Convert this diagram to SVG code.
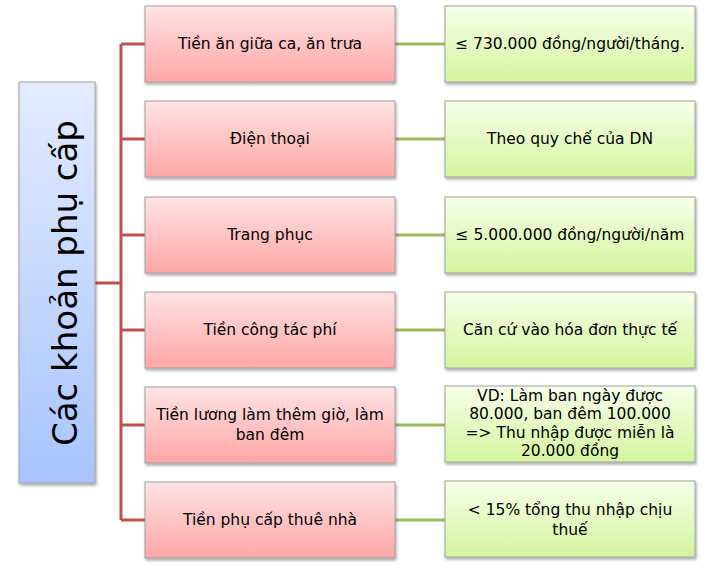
<svg xmlns="http://www.w3.org/2000/svg" width="719" height="581" viewBox="0 0 719 581">
<defs>
<linearGradient id="gr" x1="0" y1="0" x2="0" y2="1"><stop offset="0" stop-color="#ffe3e3"/><stop offset="1" stop-color="#ffa6a6"/></linearGradient>
<linearGradient id="gg" x1="0" y1="0" x2="0" y2="1"><stop offset="0" stop-color="#f6ffe9"/><stop offset="1" stop-color="#d4f59e"/></linearGradient>
<linearGradient id="gb" x1="0" y1="0" x2="0" y2="1"><stop offset="0" stop-color="#e3ecff"/><stop offset="1" stop-color="#a8c4ff"/></linearGradient>
<filter id="sh" x="-10%" y="-10%" width="120%" height="130%"><feDropShadow dx="1" dy="2" stdDeviation="1.5" flood-opacity="0.35"/></filter>
</defs>
<style>
.r{fill:url(#gr);stroke:#a0a0a0;stroke-width:1;filter:url(#sh)}
.g{fill:url(#gg);stroke:#a0a0a0;stroke-width:1;filter:url(#sh)}
.b{fill:url(#gb);stroke:#a0a0a0;stroke-width:1;filter:url(#sh)}
text{font-family:"DejaVu Sans","Liberation Sans",sans-serif;font-size:15.5px;fill:#000;text-anchor:middle}
.rl{stroke:#c0504d;stroke-width:3;fill:none}
.gl{stroke:#9bbb59;stroke-width:3;fill:none}
</style>
<g id="connectors">
<path class="rl" d="M95 283H121M121 44V520M121 44H145M121 139H145M121 235H145M121 330H145M121 425H145M121 520H145"/>
<path class="gl" d="M395 44H445M395 139H445M395 235H445M395 330H445M395 425H445M395 520H445"/>
</g>
<g id="root"><rect class="b" x="19" y="82" width="76" height="401"/><text transform="translate(67 283) rotate(-90)" style="font-size:34px" dominant-baseline="middle">Các khoản phụ cấp</text></g>
<g id="n1"><rect class="r" x="145" y="6" width="250" height="76"/><text x="270" y="49">Tiền ăn giữa ca, ăn trưa</text></g>
<g id="n2"><rect class="r" x="145" y="101" width="250" height="76"/><text x="270" y="144">Điện thoại</text></g>
<g id="n3"><rect class="r" x="145" y="197" width="250" height="76"/><text x="270" y="240">Trang phục</text></g>
<g id="n4"><rect class="r" x="145" y="292" width="250" height="76"/><text x="270" y="335">Tiền công tác phí</text></g>
<g id="n5"><rect class="r" x="145" y="387" width="250" height="76"/><text x="270" y="420">Tiền lương làm thêm giờ, làm</text><text x="270" y="440">ban đêm</text></g>
<g id="n6"><rect class="r" x="145" y="482" width="250" height="76"/><text x="270" y="525">Tiền phụ cấp thuê nhà</text></g>
<g id="m1"><rect class="g" x="445" y="6" width="250" height="76"/><text x="570" y="49">≤ 730.000 đồng/người/tháng.</text></g>
<g id="m2"><rect class="g" x="445" y="101" width="250" height="76"/><text x="570" y="144">Theo quy chế của DN</text></g>
<g id="m3"><rect class="g" x="445" y="197" width="250" height="76"/><text x="570" y="240">≤ 5.000.000 đồng/người/năm</text></g>
<g id="m4"><rect class="g" x="445" y="292" width="250" height="76"/><text x="570" y="335">Căn cứ vào hóa đơn thực tế</text></g>
<g id="m5"><rect class="g" x="445" y="386" width="250" height="76"/><text x="570" y="401">VD: Làm ban ngày được</text><text x="570" y="419">80.000, ban đêm 100.000</text><text x="570" y="438">=&gt;  Thu nhập được miễn là</text><text x="570" y="456">20.000 đồng</text></g>
<g id="m6"><rect class="g" x="445" y="481" width="250" height="76"/><text x="570" y="515">&lt; 15% tổng thu nhập chịu</text><text x="570" y="535">thuế</text></g>
</svg>
